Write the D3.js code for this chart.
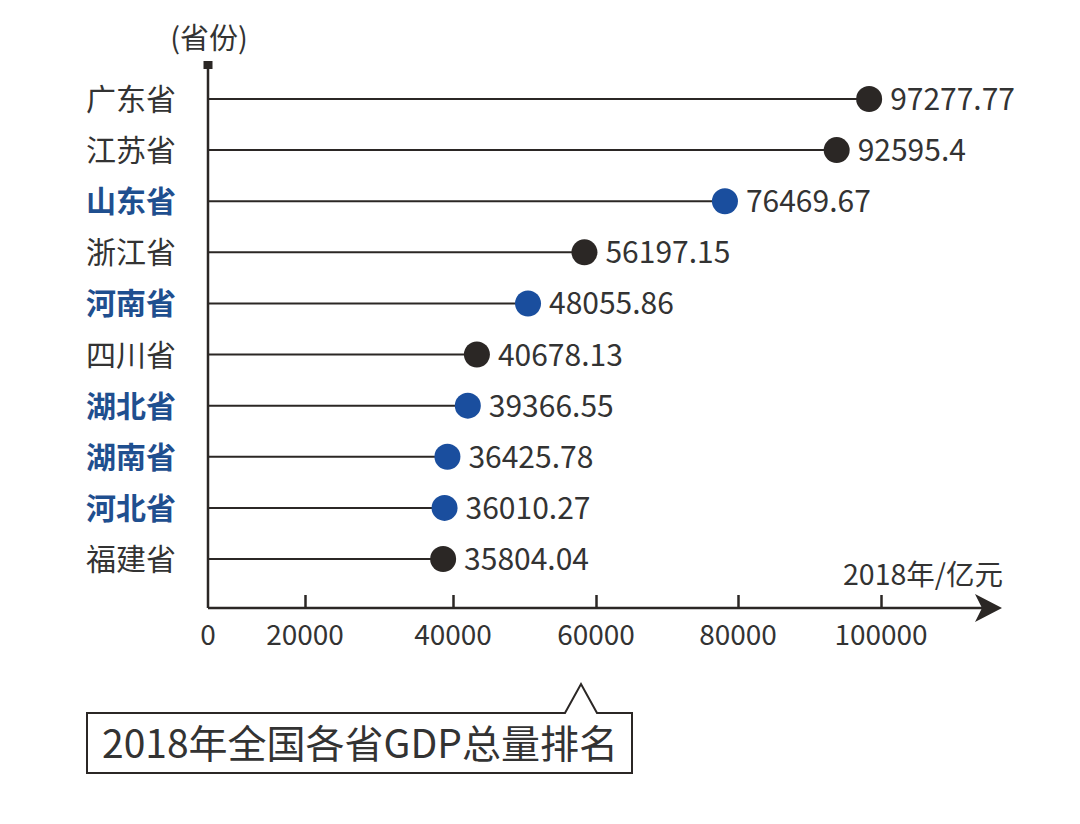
<!DOCTYPE html>
<html><head><meta charset="utf-8">
<script src="https://cdn.jsdelivr.net/npm/d3@7"></script>
<style>
html,body{margin:0;padding:0;background:#fff;}
svg{display:block;}
text{font-family:"Noto Sans CJK SC","Noto Sans",sans-serif;}
</style></head>
<body>
<svg id="chart" width="1080" height="824"></svg>
<script>
const provinces = ["广东省","江苏省","山东省","浙江省","河南省","四川省","湖北省","湖南省","河北省","福建省"];
const gdpValues = [97277.77, 92595.4, 76469.67, 56197.15, 48055.86, 40678.13, 39366.55, 36425.78, 36010.27, 35804.04];
const valueLabels = ["97277.77","92595.4","76469.67","56197.15","48055.86","40678.13","39366.55","36425.78","36010.27","35804.04"];
const highlighted = [false,false,true,false,true,false,true,true,true,false];
const tickValues = [0, 20000, 40000, 60000, 80000, 100000];
const tickLabels = ["0","20000","40000","60000","80000","100000"];
const yAxisTitle = "(省份)";
const xAxisTitle = "2018年/亿元";
const chartTitle = "2018年全国各省GDP总量排名";

const svg = d3.select("#chart");
const dark = "#2b2725", blue = "#1a4e9e", blueText = "#1f4f8f", textCol = "#333";
const axisX0 = 208, axisY = 608;

// value scale for dots
const x = d3.scaleLinear().domain([0, 100000]).range([195, 888]);
// axis scale as printed
const xAxisScale = d3.scaleLinear().domain([0, 20000, 40000, 60000, 80000, 100000]).range([208, 305, 453, 596, 738, 881]);
const y = d3.scalePoint().domain(provinces).range([99, 559]);

// y axis line
svg.append("line").attr("x1", axisX0).attr("x2", axisX0).attr("y1", 64).attr("y2", axisY)
  .attr("stroke", dark).attr("stroke-width", 2.5);
svg.append("rect").attr("x", 203.5).attr("y", 61).attr("width", 9).attr("height", 8).attr("fill", dark);
svg.append("text").attr("x", 209).attr("y", 49).attr("text-anchor", "middle")
  .attr("font-size", 29).attr("fill", textCol).text(yAxisTitle);

// x axis line + arrow
svg.append("line").attr("x1", axisX0).attr("x2", 990).attr("y1", axisY).attr("y2", axisY)
  .attr("stroke", dark).attr("stroke-width", 2.5);
svg.append("path").attr("d", `M1002,${axisY} L975,${axisY-14} L982,${axisY} L975,${axisY+14} Z`).attr("fill", dark);

const xAxis = d3.axisTop(xAxisScale).tickValues(tickValues.slice(1)).tickSize(13).tickFormat("");
const gx = svg.append("g").attr("transform", `translate(0,${axisY})`).call(xAxis);
gx.select(".domain").remove();
gx.selectAll(".tick line").attr("stroke", dark).attr("stroke-width", 2.5);

svg.append("g").selectAll("text").data(tickValues).join("text")
  .attr("x", (d) => xAxisScale(d)).attr("y", 645).attr("text-anchor", "middle")
  .attr("font-size", 28).attr("fill", textCol).text((d, i) => tickLabels[i]);

svg.append("text").attr("x", 1003).attr("y", 585).attr("text-anchor", "end")
  .attr("font-size", 28.5).attr("fill", textCol).text(xAxisTitle);

// lollipops
const rows = provinces.map((p, i) => ({p, v: gdpValues[i], lbl: valueLabels[i], hi: highlighted[i]}));
const g = svg.append("g");
g.selectAll("line.stem").data(rows).join("line").attr("class", "stem")
  .attr("x1", axisX0).attr("x2", (d) => x(d.v)).attr("y1", (d) => y(d.p)).attr("y2", (d) => y(d.p))
  .attr("stroke", dark).attr("stroke-width", 2);
g.selectAll("circle").data(rows).join("circle")
  .attr("cx", (d) => x(d.v)).attr("cy", (d) => y(d.p)).attr("r", 13)
  .attr("fill", (d) => d.hi ? blue : dark);
g.selectAll("text.val").data(rows).join("text").attr("class", "val")
  .attr("x", (d) => x(d.v) + 21).attr("y", (d) => y(d.p) + 11)
  .attr("font-size", 30).attr("fill", textCol).text((d) => d.lbl);
g.selectAll("text.cat").data(rows).join("text").attr("class", "cat")
  .attr("x", 176).attr("y", (d) => y(d.p) + 11).attr("text-anchor", "end")
  .attr("font-size", 30).attr("font-weight", (d) => d.hi ? 700 : 400)
  .attr("fill", (d) => d.hi ? blueText : textCol).text((d) => d.p);

// title callout
svg.append("path")
  .attr("d", "M87,713 L565,713 L581,684 L597,713 L632,713 L632,773 L87,773 Z")
  .attr("fill", "#fff").attr("stroke", dark).attr("stroke-width", 2);
svg.append("text").attr("x", 360).attr("y", 758).attr("text-anchor", "middle")
  .attr("font-size", 39).attr("fill", textCol).text(chartTitle);
</script>
</body></html>
